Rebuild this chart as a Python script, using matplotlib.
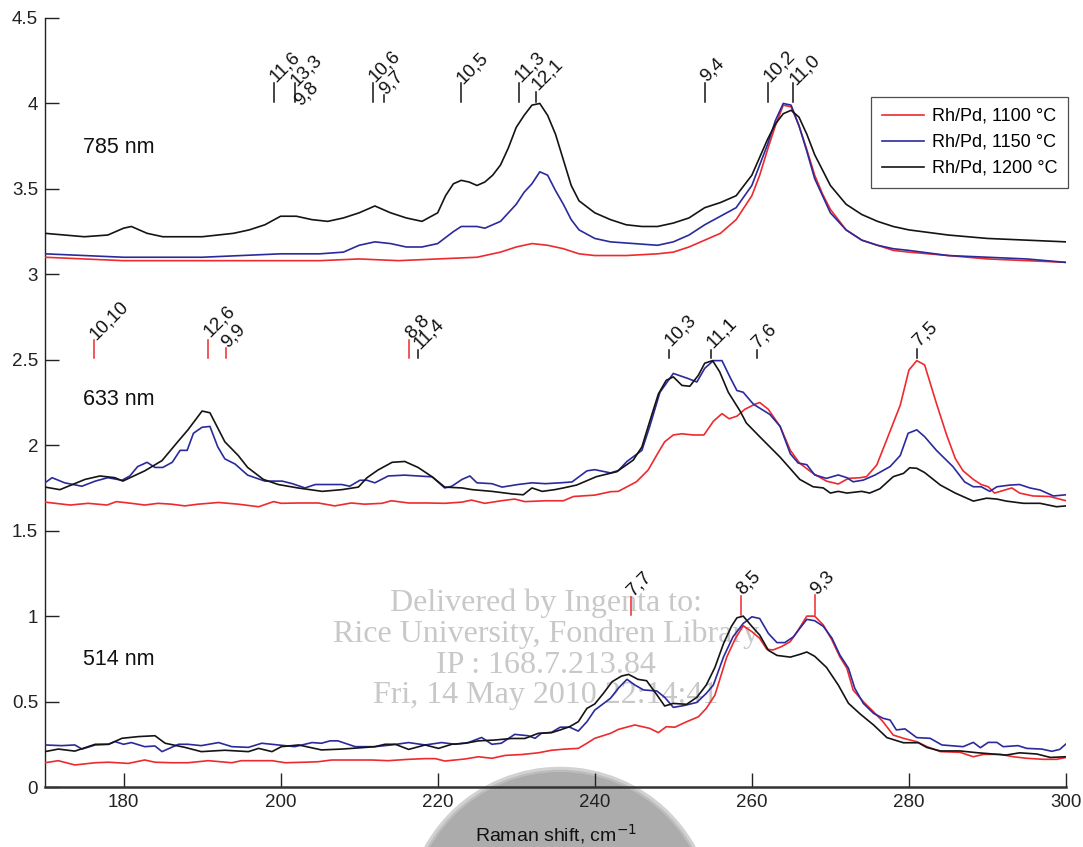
import matplotlib
matplotlib.use('Agg')
import matplotlib.pyplot as plt
from matplotlib.patches import Ellipse

plt.rcParams['font.family'] = ['Liberation Sans', 'DejaVu Sans']

# ---------------- data ----------------
series_labels = ['Rh/Pd, 1100 \u00b0C', 'Rh/Pd, 1150 \u00b0C', 'Rh/Pd, 1200 \u00b0C']
group_labels = ['785 nm', '633 nm', '514 nm']
group_label_y = [3.745, 2.265, 0.749]

# 785 nm
x785_red = [170, 175, 180, 185, 190, 195, 200, 205, 210, 215, 220, 225,
            228, 230, 232, 234, 236, 238, 240,
            244, 248, 250, 252, 254, 256, 258, 260,
            261, 262, 263, 264, 265, 266, 267, 268, 269, 270,
            272, 274, 276, 278, 280, 285, 290, 295, 300]
y785_red = [3.10, 3.09, 3.08, 3.08, 3.08, 3.08, 3.08, 3.08, 3.09, 3.08, 3.09, 3.10,
            3.13, 3.16, 3.18, 3.17, 3.15, 3.12, 3.11,
            3.11, 3.12, 3.13, 3.16, 3.20, 3.24, 3.32, 3.46,
            3.58, 3.73, 3.87, 3.99, 3.98, 3.87, 3.73, 3.58, 3.47, 3.38,
            3.26, 3.20, 3.17, 3.14, 3.13, 3.11, 3.09, 3.08, 3.07]
x785_blue = [170, 175, 180, 185, 190, 195, 200, 205, 208,
             210, 212, 214, 216, 218, 220,
             222, 223, 225, 226, 228, 230,
             231, 232, 233, 234, 235, 236, 237, 238,
             240, 242, 245, 248, 250, 252, 254, 256, 258, 260,
             261, 262, 263, 264, 265, 266, 267, 268,
             270, 272, 274, 276, 278, 280, 285, 290, 295, 300]
y785_blue = [3.12, 3.11, 3.10, 3.10, 3.10, 3.11, 3.12, 3.12, 3.13,
             3.17, 3.19, 3.18, 3.16, 3.16, 3.18,
             3.25, 3.28, 3.28, 3.27, 3.31, 3.41,
             3.48, 3.53, 3.60, 3.58, 3.49, 3.41, 3.32, 3.26,
             3.21, 3.19, 3.18, 3.17, 3.19, 3.23, 3.29, 3.34, 3.39, 3.52,
             3.64, 3.76, 3.90, 4.00, 3.99, 3.87, 3.72, 3.56,
             3.36, 3.26, 3.20, 3.17, 3.15, 3.14, 3.11, 3.10, 3.09, 3.07]
x785_black = [170, 175, 178, 180, 181, 183, 185, 190,
              194, 196, 198, 200, 202, 204, 206, 208,
              210, 212, 214, 216, 218, 220,
              221, 222, 223, 224, 225, 226, 227, 228, 229, 230, 231, 232, 233, 234, 235, 236, 237, 238,
              240, 242, 244, 246, 248, 250, 252, 254, 256, 258, 260,
              262, 263, 264, 265, 266, 267, 268,
              270, 272, 274, 276, 278, 280, 285, 290, 295, 300]
y785_black = [3.24, 3.22, 3.23, 3.27, 3.28, 3.24, 3.22, 3.22,
              3.24, 3.26, 3.29, 3.34, 3.34, 3.32, 3.31, 3.33,
              3.36, 3.40, 3.36, 3.33, 3.31, 3.36,
              3.46, 3.53, 3.55, 3.54, 3.52, 3.54, 3.58, 3.64, 3.74, 3.86, 3.93, 3.99, 4.00, 3.93, 3.82, 3.67, 3.52, 3.43,
              3.36, 3.32, 3.29, 3.28, 3.28, 3.30, 3.33, 3.39, 3.42, 3.46, 3.58,
              3.79, 3.88, 3.94, 3.96, 3.92, 3.82, 3.70,
              3.52, 3.41, 3.35, 3.31, 3.28, 3.26, 3.23, 3.21, 3.20, 3.19]

# 633 nm
x633_red = [170, 173.2, 175.5, 177.9, 179.1, 181, 182.7, 184.4, 186.1, 187.8,
            189.5, 192.1, 194.6, 197.2, 199.1, 200.1, 202.3, 204.8, 206.9, 209,
            210.7, 212.9, 214.1, 216.3, 218.8, 220.9, 223.1, 224.3, 226, 228.1,
            229.8, 231.1, 233.7, 236, 237.3, 240, 242, 243, 245.3, 246.8,
            247.9, 248.9, 250, 251.1, 252.5, 253.9, 255.1, 256.2, 257.1, 258.1,
            259.1, 260.4, 261, 262.1, 263.6, 264.9, 266.1, 267.8, 269.5, 271,
            272.3, 273.8, 274.6, 275.9, 276.9, 278.9, 280, 281, 282, 283.5,
            284.8, 285.9, 286.9, 288.2, 289.2, 290.1, 290.9, 293.1, 294.1, 295.8,
            297.9, 300]
y633_red = [1.667, 1.65, 1.66, 1.65, 1.67, 1.66, 1.65, 1.66, 1.655, 1.645,
            1.655, 1.665, 1.655, 1.64, 1.67, 1.66, 1.662, 1.662, 1.645, 1.662,
            1.655, 1.66, 1.675, 1.662, 1.662, 1.66, 1.667, 1.679, 1.66, 1.675,
            1.685, 1.67, 1.675, 1.675, 1.70, 1.708, 1.728, 1.73, 1.786, 1.855,
            1.943, 2.02, 2.06, 2.067, 2.06, 2.06, 2.14, 2.185, 2.155, 2.17,
            2.21, 2.24, 2.25, 2.21, 2.11, 1.97, 1.894, 1.835, 1.79, 1.773,
            1.806, 1.81, 1.816, 1.884, 2.0, 2.235, 2.44, 2.495, 2.47, 2.245,
            2.06, 1.923, 1.85, 1.80, 1.77, 1.757, 1.72, 1.75, 1.72, 1.703,
            1.70, 1.675]
x633_blue = [170, 170.9, 172.5, 174.7, 176.4, 178, 179.8, 180.8, 181.8, 183,
             184, 185, 186.2, 187.2, 188.1, 188.9, 190, 191, 192, 192.9,
             194.2, 195.8, 198, 200.2, 201.5, 203.1, 204.4, 206, 207.8, 208.8,
             210.1, 211, 212, 213.7, 215.8, 217.5, 219.3, 220.9, 221.8, 223.1,
             224.1, 225, 226.9, 228.2, 230.2, 232, 233.7, 235.6, 237.1, 239,
             240, 242, 243, 244.1, 246, 247, 248.3, 250, 251.9, 253,
             254, 255.1, 256.2, 257.2, 258.1, 258.9, 260.2, 262.3, 263.6, 264.9,
             265.9, 267, 268, 269.5, 271, 272.1, 272.9, 274.2, 275.7, 277.6,
             278.9, 279.9, 281, 282, 283.5, 285.6, 287.1, 288.2, 289.2, 290.3,
             291.2, 292.9, 294.1, 295.4, 296.7, 298.4, 300]
y633_blue = [1.78, 1.81, 1.78, 1.76, 1.79, 1.81, 1.795, 1.82, 1.875, 1.90,
             1.87, 1.87, 1.90, 1.97, 1.97, 2.07, 2.105, 2.11, 1.99, 1.92,
             1.89, 1.825, 1.79, 1.79, 1.775, 1.75, 1.77, 1.77, 1.77, 1.76,
             1.795, 1.795, 1.78, 1.82, 1.825, 1.82, 1.815, 1.75, 1.76, 1.80,
             1.82, 1.78, 1.775, 1.755, 1.77, 1.78, 1.775, 1.78, 1.785, 1.85,
             1.857, 1.838, 1.852, 1.905, 1.97, 2.11, 2.31, 2.42, 2.39, 2.37,
             2.45, 2.495, 2.495, 2.40, 2.32, 2.31, 2.24, 2.18, 2.11, 1.95,
             1.896, 1.886, 1.826, 1.806, 1.826, 1.81, 1.786, 1.796, 1.826, 1.875,
             1.94, 2.07, 2.09, 2.05, 1.97, 1.875, 1.785, 1.757, 1.757, 1.73,
             1.757, 1.767, 1.77, 1.75, 1.738, 1.703, 1.71]
x633_black = [170, 171.9, 173.5, 175.1, 177, 178.9, 179.9, 181.3, 182.7, 184.9,
              186.9, 188.2, 190, 191, 192.9, 194.6, 195.8, 197.8, 199.7, 202.2,
              205.3, 207.8, 209.9, 211, 212.4, 214.2, 215.8, 217.5, 219.3, 220.9,
              223.1, 224.4, 226.9, 229.5, 230.9, 232, 233.3, 234.9, 236, 237.7,
              240.2, 242.8, 244.9, 246, 247, 248.1, 249.1, 250, 251.1, 252.1,
              253.2, 254, 255, 255.9, 257, 258.5, 259.3, 261, 263.6, 266.1,
              267.8, 269.1, 270, 271, 272.1, 274, 275, 276.3, 278, 279.3,
              280.1, 281, 282, 284, 285.9, 288.2, 289.9, 291.2, 292.4, 294.6,
              296.7, 298.8, 300]
y633_black = [1.755, 1.74, 1.77, 1.80, 1.82, 1.81, 1.79, 1.82, 1.85, 1.91,
              2.02, 2.09, 2.20, 2.19, 2.02, 1.94, 1.87, 1.80, 1.77, 1.75,
              1.73, 1.74, 1.755, 1.81, 1.855, 1.90, 1.905, 1.87, 1.815, 1.755,
              1.75, 1.74, 1.73, 1.715, 1.71, 1.75, 1.73, 1.74, 1.75, 1.767,
              1.816, 1.845, 1.913, 1.99, 2.14, 2.30, 2.38, 2.40, 2.35, 2.345,
              2.41, 2.48, 2.495, 2.43, 2.31, 2.20, 2.13, 2.05, 1.93, 1.80,
              1.757, 1.75, 1.72, 1.73, 1.72, 1.73, 1.72, 1.745, 1.816, 1.835,
              1.868, 1.865, 1.84, 1.767, 1.72, 1.673, 1.69, 1.685, 1.673, 1.66,
              1.66, 1.64, 1.645]

# 514 nm
x514_red = [170, 171.7, 173.8, 176.4, 178.1, 180.6, 182.7, 184, 186.1, 188.2,
            190.8, 193.8, 195, 198.9, 200.6, 203.1, 204.8, 206.5, 209.9, 211.6,
            213.7, 216.3, 218.4, 219.7, 220.9, 223.5, 225.2, 226.9, 228.6, 230.7,
            232.8, 234.5, 236, 237.9, 239, 240, 242, 243, 245.1, 247,
            248.1, 249.1, 250.2, 251.7, 253.2, 254.2, 255.3, 256.8, 257.9, 258.9,
            260, 261, 261.9, 262.7, 263.8, 264.9, 265.9, 267, 268, 269.1,
            270.2, 271.2, 272.1, 272.9, 274.2, 275.5, 276.7, 278, 279.3, 281,
            282.3, 284, 286.5, 288.2, 289.5, 291.6, 293.3, 295, 297.1, 298.8,
            300]
y514_red = [0.142, 0.154, 0.129, 0.142, 0.145, 0.138, 0.158, 0.145, 0.142, 0.142,
            0.154, 0.142, 0.154, 0.154, 0.142, 0.145, 0.148, 0.158, 0.158, 0.158,
            0.154, 0.162, 0.166, 0.166, 0.152, 0.164, 0.177, 0.168, 0.185, 0.19,
            0.20, 0.215, 0.221, 0.226, 0.256, 0.285, 0.314, 0.337, 0.363, 0.343,
            0.318, 0.353, 0.35, 0.382, 0.411, 0.46, 0.538, 0.76, 0.869, 0.944,
            0.909, 0.87, 0.806, 0.802, 0.822, 0.851, 0.918, 1.0, 1.0, 0.948,
            0.86, 0.762, 0.695, 0.567, 0.499, 0.44, 0.382, 0.304, 0.285, 0.265,
            0.236, 0.207, 0.203, 0.177, 0.191, 0.191, 0.177, 0.168, 0.162, 0.162,
            0.173]
x514_blue = [170, 172.1, 173.8, 174.7, 176.4, 178.1, 178.9, 180, 181, 182.7,
             184, 184.9, 187, 188.2, 189.9, 192.1, 193.8, 195.9, 197.6, 199.7,
             201.8, 204, 205.2, 206.3, 207.3, 209.5, 212, 214.1, 216.3, 218.4,
             220.5, 222.2, 223.9, 225.6, 226.9, 228.1, 229.8, 231.5, 232.4, 233.2,
             234.5, 235.6, 236.8, 237.9, 239, 240, 242, 243, 244.1, 245.1,
             246.2, 247.9, 248.9, 250, 251.3, 253, 254.2, 255.1, 256.4, 257.6,
             258.9, 260, 261, 262.1, 263.2, 264.2, 265.3, 266.1, 267, 268,
             269.1, 270.2, 271.2, 272.3, 273.1, 274.2, 275.5, 276.7, 277.6, 278.4,
             279.5, 281, 282.7, 284.2, 286.9, 288.2, 289.1, 290.1, 291.2, 292,
             293.9, 295, 296.9, 298.2, 299.2, 300]
y514_blue = [0.246, 0.242, 0.246, 0.222, 0.246, 0.25, 0.266, 0.25, 0.26, 0.236,
             0.24, 0.207, 0.25, 0.25, 0.242, 0.26, 0.236, 0.232, 0.256, 0.246,
             0.236, 0.26, 0.256, 0.27, 0.27, 0.236, 0.236, 0.246, 0.26, 0.246,
             0.26, 0.25, 0.26, 0.29, 0.25, 0.256, 0.308, 0.30, 0.285, 0.314,
             0.32, 0.35, 0.35, 0.327, 0.382, 0.45, 0.519, 0.578, 0.63, 0.597,
             0.568, 0.562, 0.525, 0.466, 0.476, 0.495, 0.548, 0.597, 0.762, 0.879,
             0.957, 0.996, 0.986, 0.899, 0.845, 0.845, 0.879, 0.928, 0.981, 0.973,
             0.94, 0.871, 0.773, 0.695, 0.578, 0.489, 0.431, 0.402, 0.392, 0.334,
             0.34, 0.289, 0.285, 0.246, 0.236, 0.261, 0.23, 0.261, 0.261, 0.236,
             0.242, 0.226, 0.222, 0.209, 0.22, 0.252]
x514_black = [170, 171.7, 173.8, 176.4, 178.1, 179.8, 181.9, 184, 185.3, 187.8,
              189.9, 192.9, 195.9, 197.2, 198.9, 200.1, 202.3, 205.2, 207.8, 210.3,
              212, 213.3, 214.6, 216.3, 218.4, 220.1, 221.8, 223.5, 225.2, 227.3,
              229.4, 231.1, 232.8, 234.5, 235.6, 236.8, 237.9, 239, 240, 241.1,
              242.2, 243.4, 244.3, 245.5, 246.6, 247.9, 248.9, 250, 251.7, 253,
              254.2, 255.3, 256.4, 257.4, 258.1, 258.9, 260, 261, 262.1, 263.2,
              264.9, 266.1, 267, 268, 269.5, 271, 272.3, 273.8, 275.5, 277.2,
              279.3, 281.2, 282.3, 284, 286.5, 288.6, 290.7, 292.4, 294.1, 296.3,
              298, 300]
y514_black = [0.207, 0.222, 0.21, 0.25, 0.25, 0.285, 0.295, 0.30, 0.256, 0.232,
              0.207, 0.215, 0.207, 0.226, 0.207, 0.236, 0.246, 0.217, 0.222, 0.23,
              0.236, 0.25, 0.25, 0.22, 0.246, 0.226, 0.25, 0.256, 0.27, 0.275,
              0.284, 0.284, 0.314, 0.318, 0.334, 0.353, 0.382, 0.46, 0.486, 0.548,
              0.616, 0.649, 0.659, 0.63, 0.622, 0.54, 0.474, 0.489, 0.484, 0.525,
              0.597, 0.70, 0.84, 0.94, 0.99, 1.0, 0.94, 0.889, 0.80, 0.77,
              0.76, 0.776, 0.79, 0.765, 0.70, 0.597, 0.49, 0.427, 0.363, 0.289,
              0.259, 0.259, 0.231, 0.211, 0.211, 0.201, 0.193, 0.187, 0.2, 0.193,
              0.173, 0.177]

# peak assignments (n,m)
ann_x = [199.2, 201.8, 202.2, 211.7, 213.1, 223.0, 230.4, 232.5, 254.0, 262.1, 265.3,
         176.2, 190.8, 193.0, 216.4, 217.5, 249.4, 254.8, 260.6, 281.0,
         244.6, 258.6, 268.0]
ann_text = ['11,6', '13,3', '9,8', '10,6', '9,7', '10,5', '11,3', '12,1', '9,4', '10,2', '11,0',
            '10,10', '12,6', '9,9', '8,8', '11,4', '10,3', '11,1', '7,6', '7,5',
            '7,7', '8,5', '9,3']
ann_color = ['k', 'k', 'k', 'k', 'k', 'k', 'k', 'k', 'k', 'k', 'k',
             'r', 'r', 'r', 'r', 'k', 'k', 'k', 'k', 'k',
             'r', 'r', 'r']
# tick bottom, tick top, label baseline (y, data units)
ann_bottom = [4.008] * 11 + [2.510] * 9 + [1.006] * 3
ann_top = [4.119, 4.119, 4.008, 4.119, 4.049, 4.119, 4.119, 4.067, 4.119, 4.119, 4.119,
           2.616, 2.616, 2.569, 2.616, 2.557, 2.557, 2.557, 2.557, 2.563,
           1.112, 1.118, 1.124]
ann_label_y = [4.125, 4.100, 3.985, 4.125, 4.050, 4.110, 4.125, 4.075, 4.125, 4.125, 4.105,
               2.615, 2.630, 2.570, 2.620, 2.560, 2.578, 2.570, 2.570, 2.578,
               1.118, 1.124, 1.124]

yticks = [0, 0.5, 1, 1.5, 2, 2.5, 3, 3.5, 4, 4.5]
ytick_labels = ['0', '0.5', '1', '1.5', '2', '2.5', '3', '3.5', '4', '4.5']
xticks = [180, 200, 220, 240, 260, 280, 300]

watermark_lines = ['Delivered by Ingenta to:', 'Rice University, Fondren Library',
                   'IP : 168.7.213.84', 'Fri, 14 May 2010 22:14:41']

# ---------------- drawing ----------------
RED = '#ee2a2e'
BLUE = '#2a2a9c'
BLACK = '#141414'
cmap = {'r': RED, 'k': BLACK}

W, H = 1083, 847
fig = plt.figure(figsize=(W / 100, H / 100), dpi=100)
fig.patch.set_facecolor('white')

# grey blob at the bottom (scan artefact)
for sc, col in [(1.035, '#d2d2d2'), (1.015, '#bdbdbd'), (1.0, '#acacac')]:
    r = 150 * sc
    e = Ellipse((560 / W, 1 - (772 + 150) / H), 2 * r / W, 2 * r / H,
                transform=fig.transFigure, facecolor=col, edgecolor='none', zorder=0)
    fig.add_artist(e)

# watermark
wm_y = [603, 634, 665, 695]
for line, py in zip(watermark_lines, wm_y):
    fig.text(546 / W, 1 - py / H, line, ha='center', va='center',
             family=['Liberation Serif', 'DejaVu Serif'], fontsize=23,
             color='#c8c8c8', zorder=0.5)

ax = fig.add_axes([45 / W, 1 - 787 / H, (1066 - 45) / W, (787 - 18) / H])
ax.patch.set_alpha(0)
ax.set_zorder(1)

groups = [
    (x785_red, y785_red, x785_blue, y785_blue, x785_black, y785_black),
    (x633_red, y633_red, x633_blue, y633_blue, x633_black, y633_black),
    (x514_red, y514_red, x514_blue, y514_blue, x514_black, y514_black),
]
handles = []
for gi, (xr, yr, xb, yb, xk, yk) in enumerate(groups):
    hr, = ax.plot(xr, yr, color=RED, lw=1.2, zorder=3)
    hb, = ax.plot(xb, yb, color=BLUE, lw=1.2, zorder=3)
    hk, = ax.plot(xk, yk, color=BLACK, lw=1.2, zorder=3)
    if gi == 0:
        handles = [hr, hb, hk]
    ax.text(174.8, group_label_y[gi], group_labels[gi], fontsize=15.5,
            ha='left', va='center', color='#111111')

for x, t, c, yb_, yt_, yl in zip(ann_x, ann_text, ann_color, ann_bottom, ann_top, ann_label_y):
    if yt_ > yb_:
        ax.plot([x, x], [yb_, yt_], color=cmap[c], lw=1.1, zorder=4)
    ax.text(x + 0.25, yl, t, rotation=45, rotation_mode='anchor', ha='left', va='baseline',
            fontsize=13.5, color='#111111', zorder=5)

ax.set_xlim(170, 300)
ax.set_ylim(0, 4.5)
ax.set_yticks(yticks)
ax.set_yticklabels(ytick_labels)
ax.set_xticks(xticks)
ax.tick_params(direction='in', length=10, width=1, labelsize=13.5, colors='#222222', pad=5)
ax.spines['top'].set_visible(False)
ax.spines['right'].set_visible(False)
ax.spines['left'].set_linewidth(1.0)
ax.spines['left'].set_color('#222222')
ax.spines['bottom'].set_linewidth(1.8)
ax.spines['bottom'].set_color('#333333')
ax.set_xlabel('Raman shift, cm$^{\u22121}$', fontsize=14, labelpad=8, color='#111111')

leg = ax.legend(handles, series_labels, loc='upper right',
                bbox_to_anchor=(1068 / W, 1 - 97 / H), bbox_transform=fig.transFigure,
                fontsize=13, frameon=True, fancybox=False, borderaxespad=0,
                handlelength=2.3, handletextpad=0.45, labelspacing=0.5, borderpad=0.6)
leg.get_frame().set_edgecolor('#222222')
leg.get_frame().set_linewidth(0.9)

fig.savefig('out.png', dpi=100, facecolor='white')
